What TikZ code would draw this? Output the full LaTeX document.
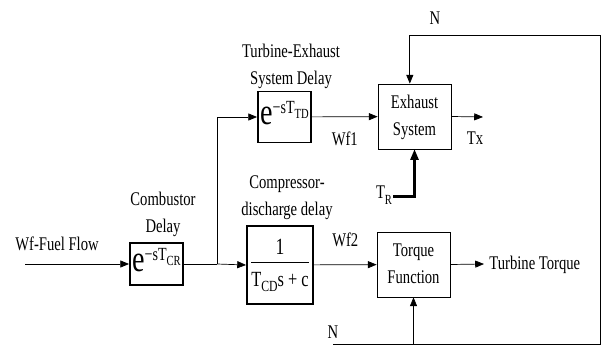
\documentclass[tikz,border=0pt]{standalone}
\usepackage{graphicx}
\usepackage{fontspec}
\setmainfont{Liberation Serif}
\usetikzlibrary{arrows.meta,positioning}

% the source image is stretched vertically, so is its text
\newcommand{\tall}[1]{\scalebox{1}[1.32]{\begin{tabular}{@{}c@{}}#1\end{tabular}}}
% e^{-sT_x} written in text fonts
\newcommand{\expdelay}[1]{\tall{{\fontsize{24}{24}\selectfont e}\raisebox{1.25ex}{\fontsize{12}{12}\selectfont −sT\raisebox{-0.55ex}{\fontsize{9}{9}\selectfont #1}}}}

\begin{document}
\begin{tikzpicture}[
  x=0.03cm, y=-0.03cm,
  font=\fontsize{12.5}{17.3}\selectfont,
  blk/.style={draw, line width=0.6pt, minimum width=2.19cm,
              minimum height=1.95cm, align=center, inner sep=0pt},
  dly/.style={draw, line width=1.6pt, minimum width=1.59cm, inner sep=0pt},
  arr/.style={-{Triangle[length=7.5pt,width=6pt]}, line width=0.6pt},
  lbl/.style={align=center, inner sep=0pt}
]
  \useasboundingbox (0,0) rectangle (601,346);

  \node[dly, minimum height=1.26cm] (comb) at (156.5,264) {\expdelay{CR}};
  \node[dly, minimum height=1.53cm] (turb) at (284.5,117) {\expdelay{TD}};
  \node[dly, minimum width=1.98cm, minimum height=2.34cm] (comp) at (280,265)
    {\tall{{\fontsize{15}{17}\selectfont 1}\\[0pt] \hline
     \rule{0pt}{15pt}{\fontsize{14}{16}\selectfont T\raisebox{-0.5ex}{\fontsize{10}{10}\selectfont CD}s + c}}};
  \node[blk] (exh)  at (414.5,116.5) {\tall{Exhaust\\System}};
  \node[blk] (torq) at (413.5,264.5) {\tall{Torque\\Function}};

  % labels
  \node[lbl] (combL) at (163,214) {\tall{Combustor\\Delay}};
  \node[lbl] (turbL) at (291,66)  {\tall{Turbine-Exhaust\\System Delay}};
  \node[lbl] (compL) at (287,197) {\tall{Compressor-\\discharge delay}};
  \node[lbl] (fuelL) at (57,245) {\tall{Wf-Fuel Flow}};
  \node[lbl] (tr) at (384,193) {\tall{T\raisebox{-0.7ex}{\fontsize{9}{9}\selectfont R}}};
  \node[lbl] (nTopL) at (435,19) {\tall{N}};
  \node[lbl] (nBotL) at (333,333) {\tall{N}};

  \coordinate (fuel)  at (25,264);
  \coordinate (split) at (217,264);
  \coordinate (txEnd) at (483,117);
  \coordinate (ttEnd) at (484,264);
  \coordinate (nb) at (333,344);
  \coordinate (nc) at (600,344);
  \coordinate (nt) at (600,35);

  % forward path
  \draw[arr] (fuel) -- (comb);
  \draw (comb.east) -- (split);
  \draw[arr] (split) -- (comp.west);
  \draw[arr] (split) |- (turb.west);
  \draw[arr] (turb) -- node[below=5pt] {\tall{Wf1}} (exh);
  \draw[arr] (comp) -- node[above=5pt] {\tall{Wf2}} (torq);
  \draw[arr] (exh.east) -- node[below=4pt, pos=0.75] {\tall{Tx}} (txEnd);
  \draw[arr] (torq.east) -- (ttEnd) node[right=1pt] {\tall{Turbine Torque}};

  % T_R input
  \draw[-{Triangle[length=9pt,width=7pt]}, line width=1.8pt]
    ([xshift=1pt,yshift=-3pt]tr.east) -| (exh.south);

  % speed feedback N
  \draw[arr] (nb) -- (nc) -- (nt) -| ([xshift=-4pt]exh.north);
  \draw[arr] (nb -| torq.south) -- (torq.south);
\end{tikzpicture}
\end{document}
